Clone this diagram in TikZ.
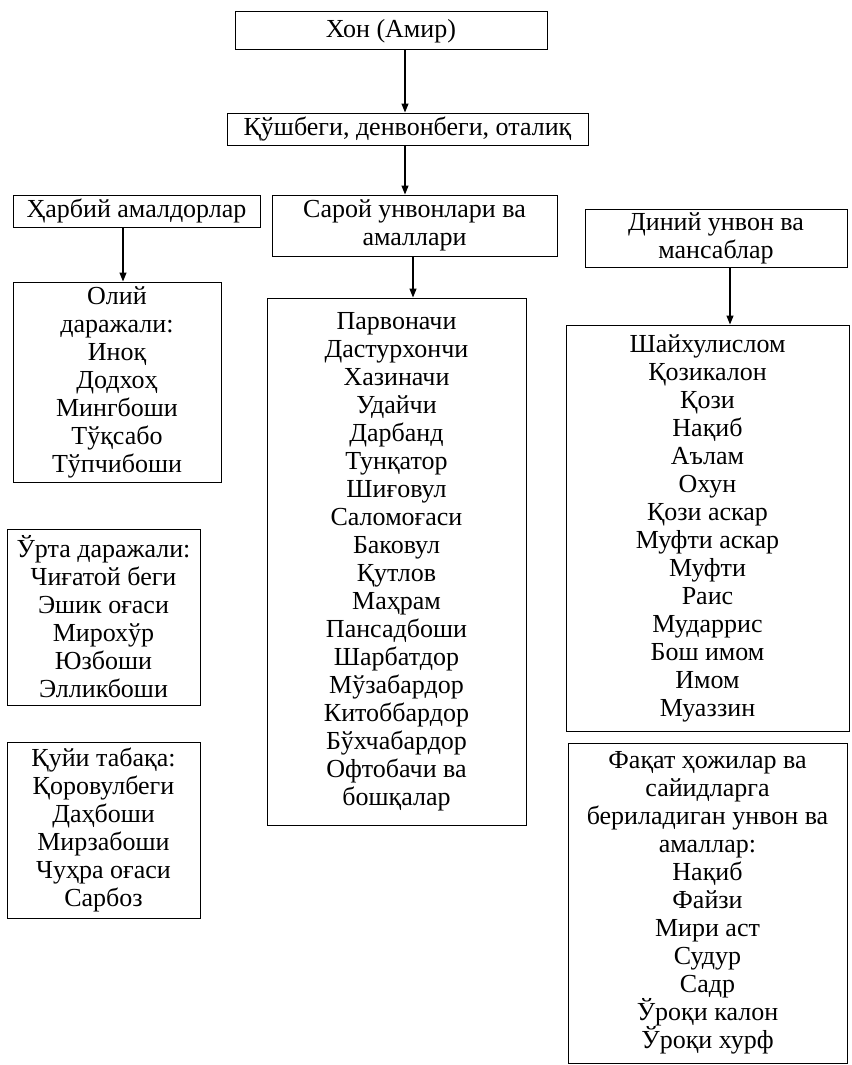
\documentclass[tikz,border=0pt]{standalone}
\usepackage{fontspec}
\setmainfont{Liberation Serif}
\usetikzlibrary{arrows.meta}
\begin{document}
\begin{tikzpicture}[x=1pt,y=-1pt,
  box/.style={draw=black,line width=1pt,inner sep=0pt,align=center,
    font=\fontsize{26}{28}\selectfont},
  arr/.style={line width=1.2pt,-{Triangle[length=9pt,width=7pt]}}]
\useasboundingbox (0,0) rectangle (851,1065);
\node[box,minimum width=312pt,minimum height=38pt] (khan) at (391,31) {Хон (Амир)};
\node[box,minimum width=361pt,minimum height=32pt] (kush) at (407.5,129) {Қўшбеги, денвонбеги, оталиқ};
\node[box,minimum width=247pt,minimum height=32pt] (harb) at (136.5,211) {Ҳарбий амалдорлар};
\node[box,minimum width=285pt,minimum height=61pt] (saroy) at (414.5,225.5) {Сарой унвонлари ва\\амаллари};
\node[box,minimum width=262pt,minimum height=58pt] (diniy) at (716,238) {Диний унвон ва\\мансаблар};
\node[box,minimum width=208pt,minimum height=200pt] (oliy) at (117,382) {Олий\\даражали:\\Иноқ\\Додхоҳ\\Мингбоши\\Тўқсабо\\Тўпчибоши};
\node[box,minimum width=193pt,minimum height=176pt] (urta) at (103.5,617) {Ўрта даражали:\\Чиғатой беги\\Эшик оғаси\\Мирохўр\\Юзбоши\\Элликбоши};
\node[box,minimum width=193pt,minimum height=176pt] (quyi) at (103.5,830) {Қуйи табақа:\\Қоровулбеги\\Даҳбоши\\Мирзабоши\\Чуҳра оғаси\\Сарбоз};
\node[box,minimum width=259pt,minimum height=527pt] (sarlist) at (396.5,561.5) {Парвоначи\\Дастурхончи\\Хазиначи\\Удайчи\\Дарбанд\\Тунқатор\\Шиғовул\\Саломоғаси\\Баковул\\Қутлов\\Маҳрам\\Пансадбоши\\Шарбатдор\\Мўзабардор\\Китоббардор\\Бўхчабардор\\Офтобачи ва\\бошқалар};
\node[box,minimum width=283pt,minimum height=406pt] (dinlist) at (707.5,528) {Шайхулислом\\Қозикалон\\Қози\\Нақиб\\Аълам\\Охун\\Қози аскар\\Муфти аскар\\Муфти\\Раис\\Мударрис\\Бош имом\\Имом\\Муаззин};
\node[box,minimum width=279pt,minimum height=320pt] (hoji) at (707.5,903) {Фақат ҳожилар ва\\сайидларга\\бериладиган унвон ва\\амаллар:\\Нақиб\\Файзи\\Мири аст\\Судур\\Садр\\Ўроқи калон\\Ўроқи хурф};
\draw[arr] ([xshift=14pt]khan.south) -- ([xshift=14pt]khan.south |- kush.north);
\draw[arr] ([xshift=-2.5pt]kush.south) -- ([xshift=-2.5pt]kush.south |- saroy.north);
\draw[arr] ([xshift=-13.5pt]harb.south) -- ([xshift=-13.5pt]harb.south |- oliy.north);
\draw[arr] ([xshift=-1.5pt]saroy.south) -- ([xshift=-1.5pt]saroy.south |- sarlist.north);
\draw[arr] ([xshift=14pt]diniy.south) -- ([xshift=14pt]diniy.south |- dinlist.north);
\end{tikzpicture}
\end{document}
